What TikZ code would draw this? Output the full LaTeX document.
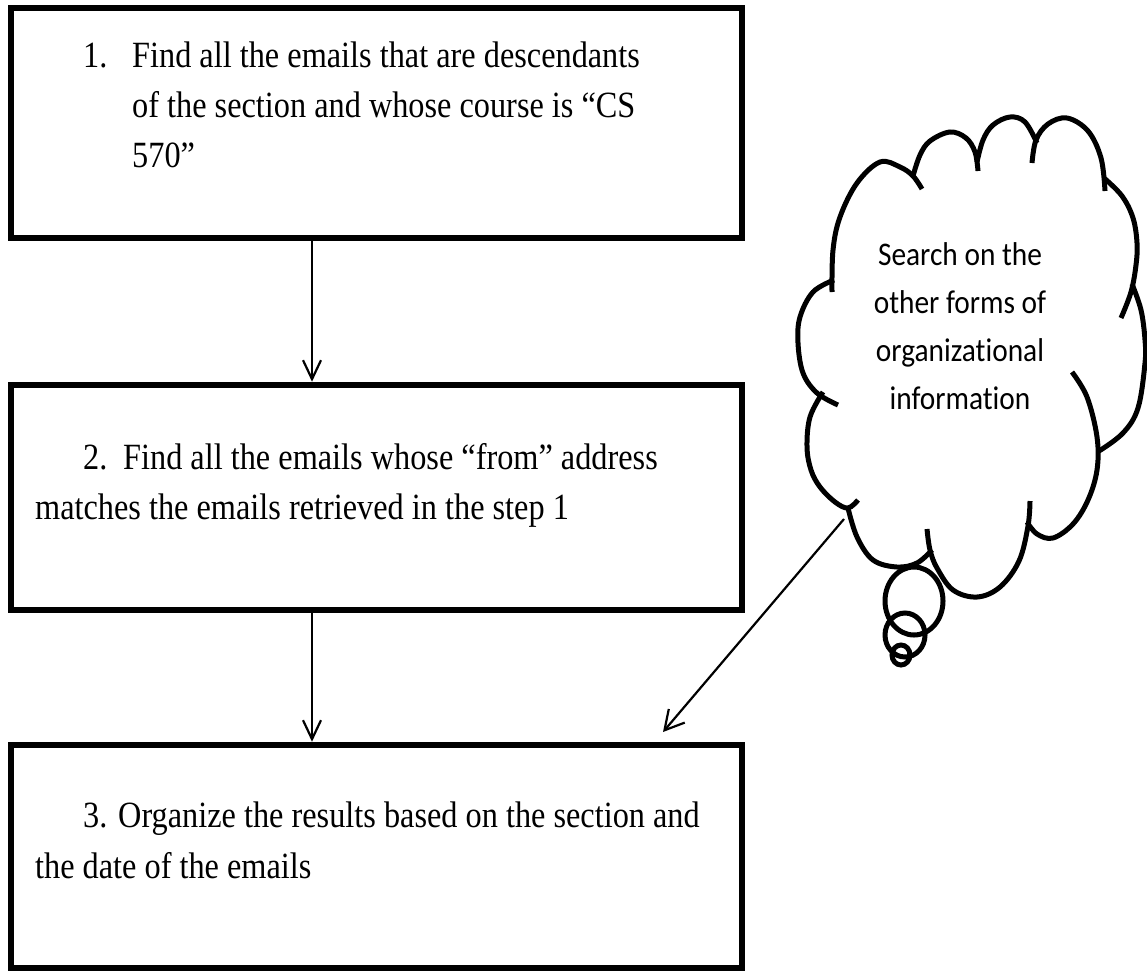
\documentclass[tikz,border=0pt]{standalone}
\usepackage{fontspec}
\setmainfont{Liberation Serif}
\newfontfamily\boxfont[FakeStretch=0.873]{Liberation Serif}
\newfontfamily\cloudfont[FakeStretch=0.89,Ligatures=NoCommon]{Carlito}
\usetikzlibrary{arrows.meta}

\begin{document}
\begin{tikzpicture}[x=1pt,y=-1pt,
  stepbox/.style={draw, line width=6.5pt, rectangle, inner sep=0pt, minimum width=731pt},
  steptext/.style={anchor=base west, inner sep=0pt, font=\boxfont\fontsize{37}{40}\selectfont},
  cloudtext/.style={anchor=base, inner sep=0pt, font=\cloudfont\fontsize{33}{40}\selectfont},
  flow/.style={line width=2.2pt, -{Straight Barb[length=19pt,width=18pt]}},
  bump/.style={line width=5pt},
  bubble/.style={line width=5pt},
]
\useasboundingbox (0,0) rectangle (1147,972);

% the three steps
\node[stepbox, minimum height=230pt] (b1) at (376.5,123) {};
\node[stepbox, minimum height=225pt] (b2) at (376.5,497.5) {};
\node[stepbox, minimum height=223pt] (b3) at (376.5,856.5) {};

\node[steptext] (n1)  at (83,67)  {1.};
\node[steptext] (t1a) at (132,67)  {Find all the emails that are descendants};
\node[steptext] (t1b) at (132,117) {of the section and whose course is “CS};
\node[steptext] (t1c) at (132,167) {570”};

\node[steptext] (n2)  at (83,469)  {2.};
\node[steptext] (t2a) at (123,469) {Find all the emails whose “from” address};
\node[steptext] (t2b) at (35,519)  {matches the emails retrieved in the step 1};

\node[steptext] (t3a) at (83,827) {3. Organize the results based on the section and};
\node[steptext] (t3b) at (35,878) {the date of the emails};

% flow between the steps
\coordinate (ax) at (312,0);
\draw[flow] (b1.south -| ax) -- (b2.north -| ax);
\draw[flow] (b2.south -| ax) -- (b3.north -| ax);

% thought cloud, one arc per bump
\draw[bump] plot[smooth, tension=0.6] coordinates {(832,292) (833,250) (840,217) (857,183) (880,162) (900,167) (913,176) (922,189)};
\draw[bump] plot[smooth, tension=0.6] coordinates {(913,176) (920,155) (930,141) (950,132) (966,138) (975,152) (978,171)};
\draw[bump] plot[smooth, tension=0.6] coordinates {(977,162) (983,140) (993,125) (1010,117) (1025,122) (1037,143)};
\draw[bump] plot[smooth, tension=0.6] coordinates {(1032,163) (1036,140) (1048,124) (1067,118) (1088,131) (1101,158) (1105,191)};
\draw[bump] plot[smooth, tension=0.6] coordinates {(1104,178) (1122,196) (1133,218) (1137,243) (1136,265) (1131,292) (1121,318)};
\draw[bump] plot[smooth, tension=0.6] coordinates {(1132,284) (1141,310) (1145,340) (1145,363) (1138,408) (1123,433) (1099,451)};
\draw[bump] plot[smooth, tension=0.6] coordinates {(1072,372) (1087,397) (1097,437) (1097,470) (1088,500) (1073,524) (1053,538) (1037,534) (1027,522)};
\draw[bump] plot[smooth, tension=0.6] coordinates {(1030,501) (1028,526) (1019,561) (1000,587) (977,597) (953,590) (937,568) (930,550) (927,529)};
\draw[bump] plot[smooth, tension=0.6] coordinates {(932,550) (917,563) (897,567) (873,560) (857,537) (848,508)};
\draw[bump] plot[smooth, tension=0.6] coordinates {(823,392) (810,417) (807,447) (811,470) (820,487) (835,502) (848,508) (858,500)};
\draw[bump] plot[smooth, tension=0.6] coordinates {(834,280) (813,292) (800,317) (798,343) (803,373) (817,393) (838,405)};

% trailing bubbles
\draw[bubble] (914,601) ellipse [x radius=29, y radius=34];
\draw[bubble] (905,635) ellipse [x radius=20, y radius=22];
\draw[bubble] (901,655) ellipse [x radius=9, y radius=10];

\node[cloudtext] (c1) at (960,265) {Search on the};
\node[cloudtext] (c2) at (960,313) {other forms of};
\node[cloudtext] (c3) at (960,361) {organizational};
\node[cloudtext] (c4) at (960,409) {information};

% pointer from the cloud down to the last step
\coordinate (cloudtip) at (844,519);
\coordinate (target) at (663,732);
\draw[line width=2.2pt, -{Straight Barb[length=19pt,width=21pt]}] (cloudtip) -- (target);
\end{tikzpicture}
\end{document}
